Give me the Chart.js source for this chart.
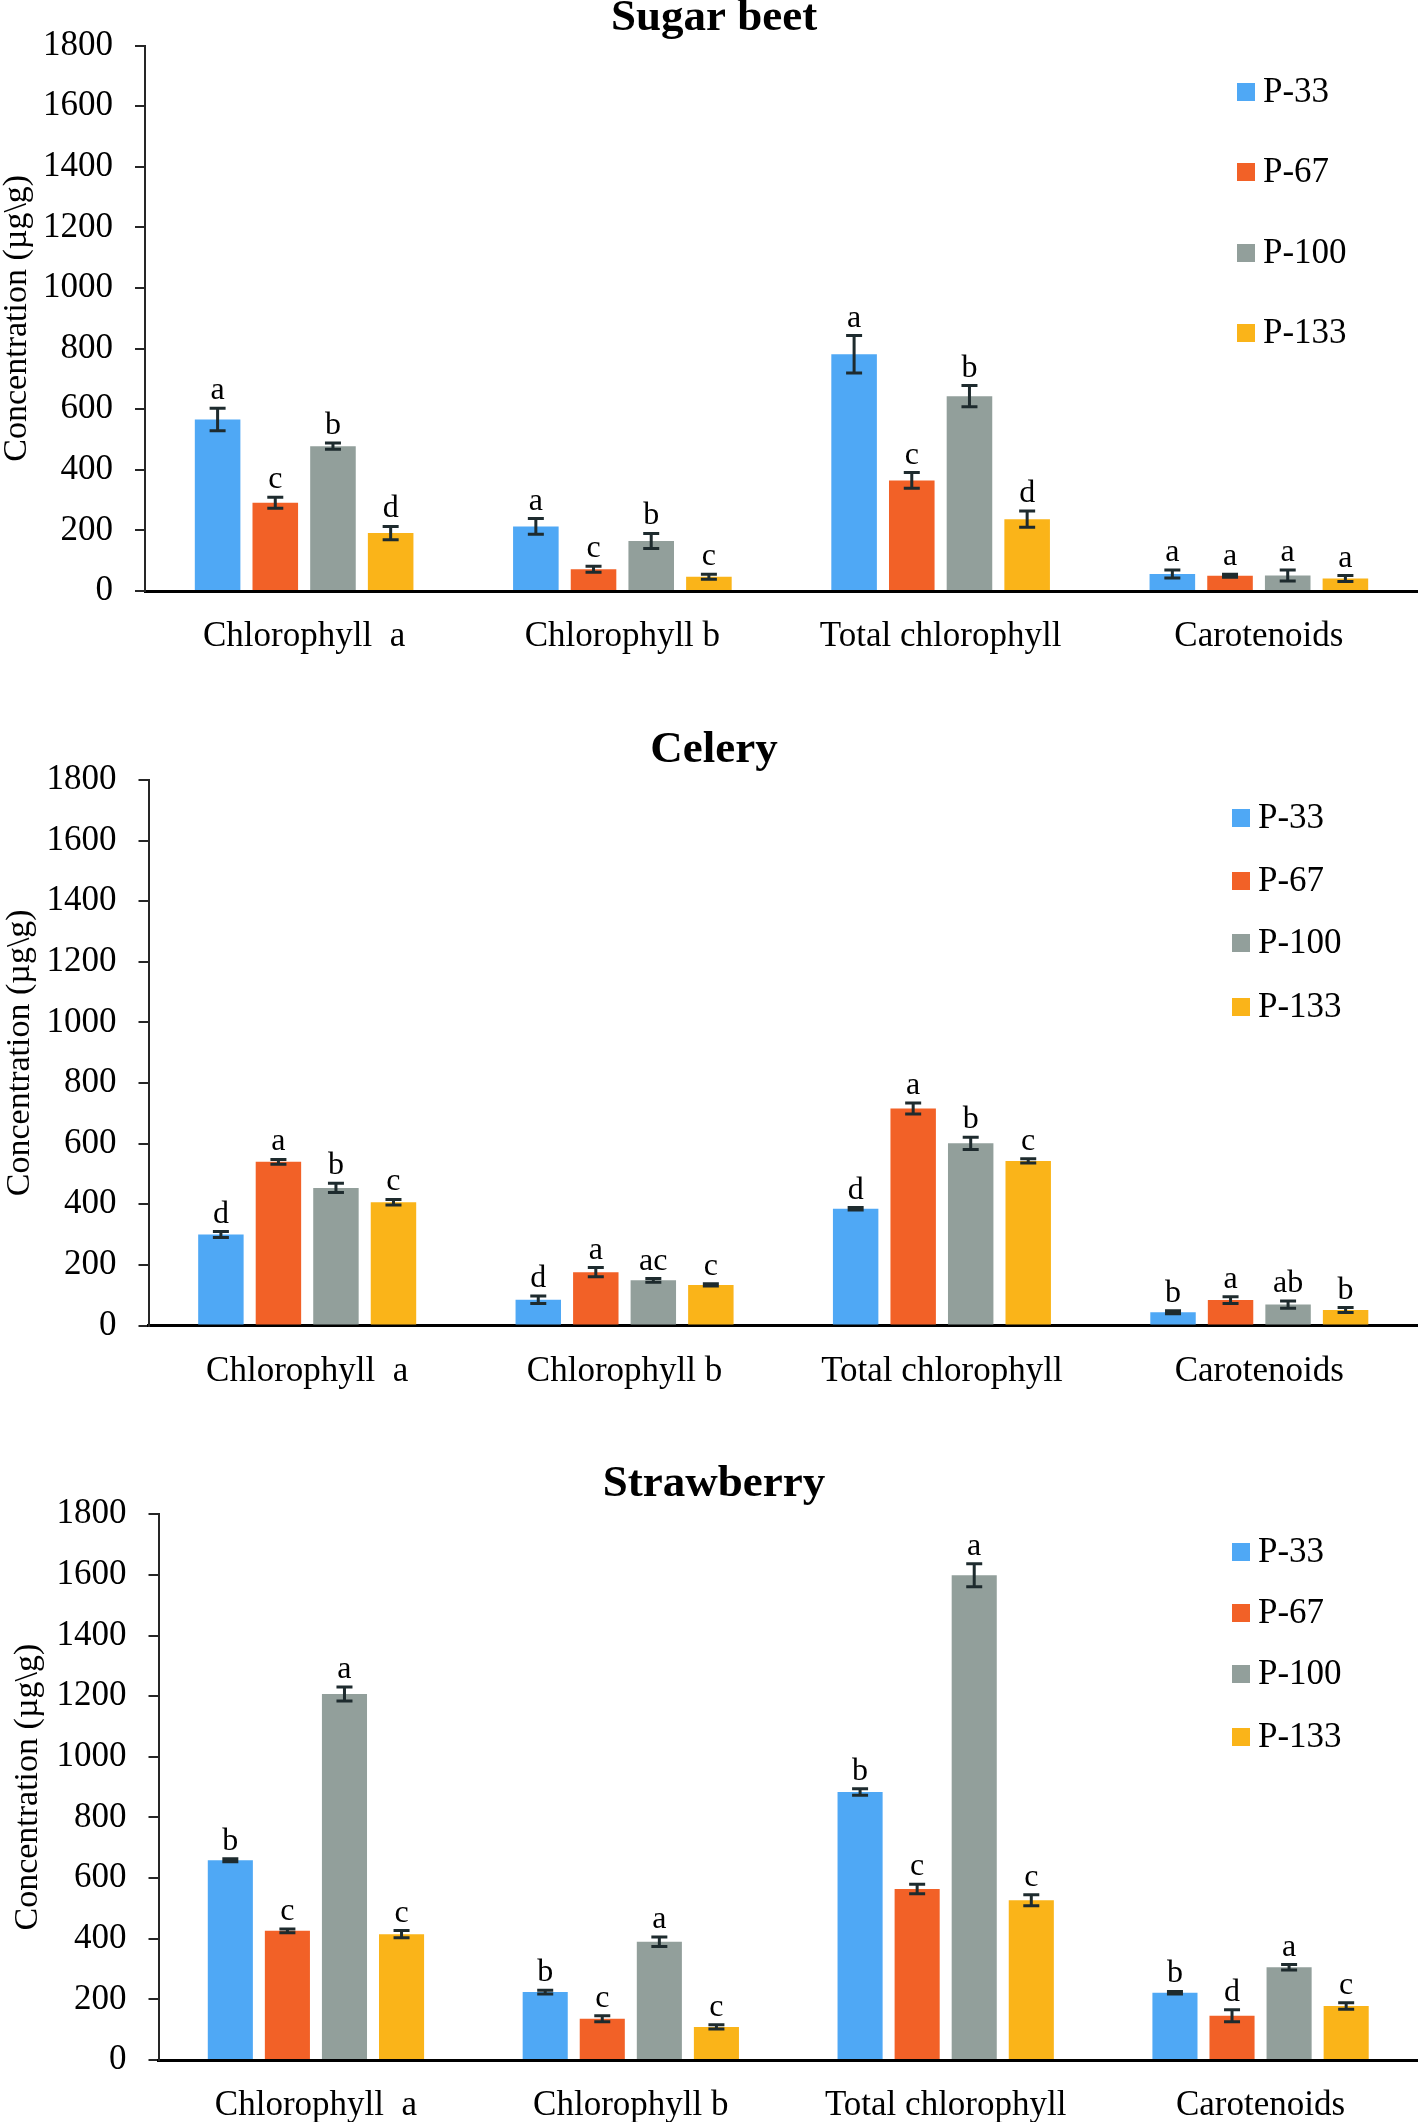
<!DOCTYPE html>
<html>
<head>
<meta charset="utf-8">
<script src="https://cdn.jsdelivr.net/npm/chart.js@4.4.1/dist/chart.umd.min.js"></script>
<style>
  html, body { margin: 0; padding: 0; background: #ffffff; }
  #wrap { position: relative; width: 1418px; height: 2122px; background: #fff; }
  .panel { position: absolute; left: 0; width: 1418px; }
  canvas { display: block; }
</style>
</head>
<body>
<div id="wrap">
  <div class="panel" style="top:0px;height:720px"><canvas id="c1" width="1418" height="720"></canvas></div>
  <div class="panel" style="top:720px;height:720px"><canvas id="c2" width="1418" height="720"></canvas></div>
  <div class="panel" style="top:1440px;height:682px"><canvas id="c3" width="1418" height="682"></canvas></div>
</div>
<script>
// ---------------- DATA ----------------
const categories = ['Chlorophyll  a', 'Chlorophyll b', 'Total chlorophyll', 'Carotenoids'];
const seriesNames = ['P-33', 'P-67', 'P-100', 'P-133'];
const yTickValues = [0, 200, 400, 600, 800, 1000, 1200, 1400, 1600, 1800];
const yTickLabels = ['0', '200', '400', '600', '800', '1000', '1200', '1400', '1600', '1800'];
const yAxisTitle = 'Concentration (\u00b5g\\g)';
const panelTitles = ['Sugar beet', 'Celery', 'Strawberry'];

// Sugar beet
const sugarP33 = [566, 213, 781, 56];
const sugarP67 = [291, 72, 365, 50];
const sugarP100 = [478, 165, 643, 51];
const sugarP133 = [191, 47, 237, 41];
const sugarErrP33 = [37, 26, 62, 13];
const sugarErrP67 = [18, 10, 26, 5];
const sugarErrP100 = [10, 25, 35, 18];
const sugarErrP133 = [22, 8, 27, 10];
const sugarLetP33 = ['a', 'a', 'a', 'a'];
const sugarLetP67 = ['c', 'c', 'c', 'a'];
const sugarLetP100 = ['b', 'b', 'b', 'a'];
const sugarLetP133 = ['d', 'c', 'd', 'a'];

// Celery
const celeryP33 = [300, 85, 385, 44];
const celeryP67 = [540, 176, 716, 84];
const celeryP100 = [454, 149, 601, 69];
const celeryP133 = [407, 134, 543, 51];
const celeryErrP33 = [10, 12, 4, 5];
const celeryErrP67 = [8, 15, 18, 11];
const celeryErrP100 = [15, 6, 20, 12];
const celeryErrP133 = [9, 4, 7, 8];
const celeryLetP33 = ['d', 'd', 'd', 'b'];
const celeryLetP67 = ['a', 'a', 'a', 'a'];
const celeryLetP100 = ['b', 'ac', 'b', 'ab'];
const celeryLetP133 = ['c', 'c', 'c', 'b'];

// Strawberry
const strawP33 = [659, 224, 884, 222];
const strawP67 = [426, 136, 564, 146];
const strawP100 = [1207, 390, 1599, 306];
const strawP133 = [415, 109, 527, 178];
const strawErrP33 = [5, 6, 11, 4];
const strawErrP67 = [6, 10, 16, 20];
const strawErrP100 = [23, 16, 38, 9];
const strawErrP133 = [12, 7, 18, 11];
const strawLetP33 = ['b', 'b', 'b', 'b'];
const strawLetP67 = ['c', 'c', 'c', 'd'];
const strawLetP100 = ['a', 'a', 'a', 'a'];
const strawLetP133 = ['c', 'c', 'c', 'c'];

// ---------------- STYLE ----------------
const seriesColors = ['#4fa8f5', '#f26127', '#929f9b', '#fab419'];
const errColor = '#1e2b2e';
const FONT = '"Liberation Serif", "Times New Roman", serif';

// layout per panel (canvas-local coordinates)
const layouts = [
  { canvas: 'c1', h: 720, top: 45.5, bottom: 591, axisX: 145, titleY: 18, yTitlePad: 0,
    legX: 1237, legY: [92, 172, 253, 333] },
  { canvas: 'c2', h: 720, top: 60, bottom: 605.5, axisX: 148.5, titleY: 30, yTitlePad: 3,
    legX: 1232, legY: [98, 161, 223, 287] },
  { canvas: 'c3', h: 682, top: 74.3, bottom: 620, axisX: 158.5, titleY: 44, yTitlePad: 11,
    legX: 1232, legY: [112, 173, 234, 297] }
];

const panelValues = [
  [sugarP33, sugarP67, sugarP100, sugarP133],
  [celeryP33, celeryP67, celeryP100, celeryP133],
  [strawP33, strawP67, strawP100, strawP133]
];
const panelErrors = [
  [sugarErrP33, sugarErrP67, sugarErrP100, sugarErrP133],
  [celeryErrP33, celeryErrP67, celeryErrP100, celeryErrP133],
  [strawErrP33, strawErrP67, strawErrP100, strawErrP133]
];
const panelLetters = [
  [sugarLetP33, sugarLetP67, sugarLetP100, sugarLetP133],
  [celeryLetP33, celeryLetP67, celeryLetP100, celeryLetP133],
  [strawLetP33, strawLetP67, strawLetP100, strawLetP133]
];

// ---------------- PLUGIN: error bars, letters, title, legend ----------------
const annotPlugin = {
  id: 'annot',
  afterDatasetsDraw(chart, args, opts) {
    const ctx = chart.ctx;
    const yScale = chart.scales.y;
    ctx.save();
    chart.data.datasets.forEach((ds, i) => {
      const meta = chart.getDatasetMeta(i);
      meta.data.forEach((bar, j) => {
        const v = ds.data[j];
        const e = ds.errors[j];
        const x = bar.x;
        const yT = yScale.getPixelForValue(v + e);
        const yB = yScale.getPixelForValue(Math.max(0, v - e));
        ctx.strokeStyle = errColor;
        ctx.lineWidth = 3;
        ctx.beginPath();
        ctx.moveTo(x, yT); ctx.lineTo(x, yB);
        ctx.moveTo(x - 8, yT); ctx.lineTo(x + 8, yT);
        ctx.moveTo(x - 8, yB); ctx.lineTo(x + 8, yB);
        ctx.stroke();
        ctx.fillStyle = '#000';
        ctx.font = '32px ' + FONT;
        ctx.textAlign = 'center';
        ctx.textBaseline = 'alphabetic';
        ctx.fillText(ds.letters[j], x, yT - 9);
      });
    });
    ctx.restore();
  },
  afterDraw(chart, args, opts) {
    const ctx = chart.ctx;
    ctx.save();
    // title
    ctx.fillStyle = '#000';
    ctx.font = 'bold 45px ' + FONT;
    ctx.textAlign = 'center';
    ctx.textBaseline = 'middle';
    ctx.fillText(opts.title, 714, opts.titleY);
    // legend
    ctx.font = '35px ' + FONT;
    ctx.textAlign = 'left';
    chart.data.datasets.forEach((ds, i) => {
      const cy = opts.legY[i];
      ctx.fillStyle = ds.backgroundColor;
      ctx.fillRect(opts.legX, cy - 9, 18, 18);
      ctx.fillStyle = '#000';
      ctx.fillText(ds.label, opts.legX + 26, cy + 1);
    });
    ctx.restore();
  }
};

// ---------------- BUILD CHARTS ----------------
layouts.forEach((L, p) => {
  const datasets = seriesNames.map((name, i) => ({
    label: name,
    data: panelValues[p][i],
    errors: panelErrors[p][i],
    letters: panelLetters[p][i],
    backgroundColor: seriesColors[i],
    borderWidth: 0,
    categoryPercentage: 0.725,
    barPercentage: 0.79
  }));
  new Chart(document.getElementById(L.canvas), {
    type: 'bar',
    data: { labels: categories, datasets },
    options: {
      responsive: false,
      animation: false,
      devicePixelRatio: 1,
      layout: { padding: { top: L.top, left: 0, right: 0, bottom: 0 } },
      plugins: {
        legend: { display: false },
        title: { display: false },
        tooltip: { enabled: false },
        annot: { title: panelTitles[p], titleY: L.titleY, legX: L.legX, legY: L.legY }
      },
      scales: {
        x: {
          type: 'category',
          grid: { display: false, drawTicks: false },
          border: { display: true, color: '#000', width: 3 },
          ticks: {
            color: '#000',
            font: { family: FONT, size: 35, lineHeight: 1.2 },
            padding: 25,
            maxRotation: 0,
            autoSkip: false
          },
          afterFit: (s) => { s.height = L.h - L.bottom; }
        },
        y: {
          min: 0,
          max: 1800,
          afterBuildTicks: (s) => { s.ticks = yTickValues.map(v => ({ value: v })); },
          grid: { drawOnChartArea: false, drawTicks: true, tickLength: 10, color: '#262626', lineWidth: 2 },
          border: { display: true, color: '#262626', width: 2 },
          ticks: {
            color: '#000',
            font: { family: FONT, size: 35 },
            padding: 22,
            callback: (value) => yTickLabels[yTickValues.indexOf(value)]
          },
          title: {
            display: true,
            text: yAxisTitle,
            color: '#000',
            font: { family: FONT, size: 34, lineHeight: 1 },
            padding: { top: L.yTitlePad, bottom: 0 }
          },
          afterFit: (s) => { s.width = L.axisX; }
        }
      }
    },
    plugins: [annotPlugin]
  });
});
</script>
</body>
</html>
